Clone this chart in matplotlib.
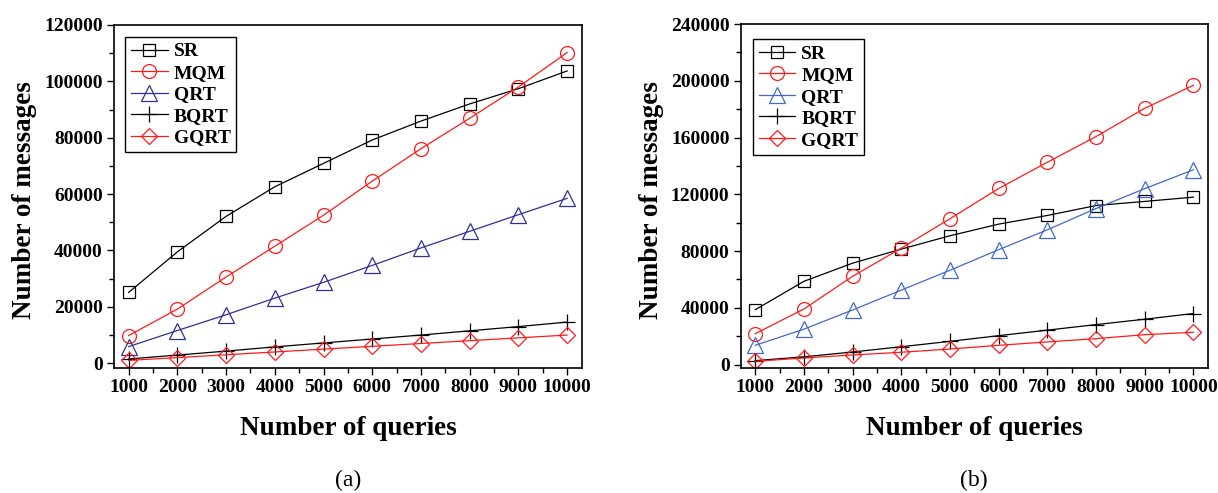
import matplotlib
matplotlib.use('Agg')
import matplotlib.pyplot as plt
from matplotlib.ticker import MultipleLocator

plt.rcParams['font.family'] = 'serif'
plt.rcParams['font.serif'] = ['Liberation Serif', 'DejaVu Serif']
plt.rcParams['font.weight'] = 'bold'

queries = [1000, 2000, 3000, 4000, 5000, 6000, 7000, 8000, 9000, 10000]
series_names = ['SR', 'MQM', 'QRT', 'BQRT', 'GQRT']

# (a)
sr_a = [25100, 39500, 52100, 62600, 70900, 79200, 85900, 92000, 97400, 103700]
mqm_a = [9800, 19200, 30600, 41500, 52500, 64600, 76100, 86900, 98000, 110200]
qrt_a = [5900, 11600, 17200, 23100, 28700, 34700, 40900, 46800, 52700, 58500]
bqrt_a = [1500, 2900, 4300, 5800, 7200, 8600, 10000, 11500, 13000, 14600]
gqrt_a = [1000, 2000, 3000, 4000, 5000, 6000, 7000, 8000, 9000, 10000]

# (b)
sr_b = [38700, 58700, 71500, 81400, 90800, 99000, 105100, 112100, 115000, 118000]
mqm_b = [21800, 39200, 62200, 82100, 102800, 124100, 142600, 160700, 180600, 196800]
qrt_b = [13600, 25000, 38500, 52500, 66500, 81000, 95000, 110000, 124000, 137300]
bqrt_b = [2800, 5500, 8900, 12600, 16400, 20400, 24300, 28200, 32000, 36000]
gqrt_b = [2300, 4700, 6800, 8700, 11000, 13600, 16000, 18300, 21100, 22800]


def draw_panel(ax, values, qrt_color, ymax, ystep, ymin, legend_anchor):
    styles = [
        dict(color='black', marker='s', ms=8.5),
        dict(color='#ff1a1a', marker='o', ms=10),
        dict(color=qrt_color, marker='^', ms=12),
        dict(color='black', marker='+', ms=11),
        dict(color='#ff1a1a', marker='D', ms=8),
    ]
    for name, vals, st in zip(series_names, values, styles):
        ax.plot(queries, vals, color=st['color'], marker=st['marker'], markersize=st['ms'],
                markerfacecolor='none', markeredgecolor=st['color'], markeredgewidth=0.9,
                linewidth=0.9, label=name)

    ax.set_xlim(700, 10300)
    ax.set_ylim(ymin, ymax)
    ax.set_xticks(queries)
    ax.xaxis.set_minor_locator(MultipleLocator(500))
    ax.yaxis.set_major_locator(MultipleLocator(ystep))
    ax.yaxis.set_minor_locator(MultipleLocator(ystep / 2))
    ax.tick_params(which='major', direction='out', length=5, width=1, labelsize=14, pad=3)
    ax.tick_params(which='minor', direction='out', length=3.5, width=1)
    for sp in ax.spines.values():
        sp.set_linewidth(1.2)

    leg = ax.legend(loc='upper left', bbox_to_anchor=legend_anchor, borderaxespad=0,
                    fontsize=14, numpoints=1, fancybox=False, framealpha=1,
                    edgecolor='black', handlelength=1.9, handletextpad=0.3,
                    labelspacing=0.2, borderpad=0.3)
    leg.get_frame().set_linewidth(1.0)


fig = plt.figure(figsize=(12.18, 4.93), dpi=100)
ax1 = fig.add_axes([0.0936, 0.2535, 0.3840, 0.6958])
ax2 = fig.add_axes([0.6081, 0.2535, 0.3837, 0.6978])

draw_panel(ax1, [sr_a, mqm_a, qrt_a, bqrt_a, gqrt_a], '#2e3192', 120000, 20000, -1700, (0.0235, 0.965))
draw_panel(ax2, [sr_b, mqm_b, qrt_b, bqrt_b, gqrt_b], '#4169c8', 240000, 40000, -2400, (0.0257, 0.9555))

fig.text(0.0205, 0.594, 'Number of messages', rotation=90, ha='center', va='center', fontsize=19.5)
fig.text(0.5345, 0.594, 'Number of messages', rotation=90, ha='center', va='center', fontsize=19.5)
fig.text(0.2857, 0.1318, 'Number of queries', ha='center', va='center', fontsize=19.5)
fig.text(0.7997, 0.1318, 'Number of queries', ha='center', va='center', fontsize=19.5)
fig.text(0.2857, 0.0264, '(a)', ha='center', va='center', fontsize=17, fontweight='normal')
fig.text(0.7997, 0.0264, '(b)', ha='center', va='center', fontsize=17, fontweight='normal')

plt.savefig('out.png', dpi=100)
